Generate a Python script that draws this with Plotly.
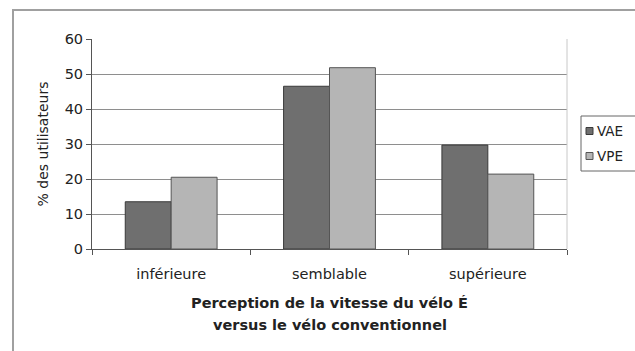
import plotly.graph_objects as go

# Perception of e-bike speed compared with a conventional bike (% of users)
categories = ["inférieure", "semblable", "supérieure"]
vae = [13.5, 46.5, 29.7]
vpe = [20.5, 51.8, 21.4]
series_names = ["VAE", "VPE"]
series_colors = ["#6f6f6f", "#b5b5b5"]
series_edges = ["#3a3a3a", "#555555"]
y_ticks = [0, 10, 20, 30, 40, 50, 60]
x_title_lines = ["Perception de la vitesse du vélo É", "versus le vélo conventionnel"]

W, H = 635, 351
L, R, T, B = 92, 68, 39, 102
pw, ph = W - L - R, H - T - B

font_family = "DejaVu Sans"

fig = go.Figure()
for name, vals, col, edge in zip(series_names, [vae, vpe], series_colors, series_edges):
    fig.add_trace(go.Bar(
        x=categories, y=vals, name=name,
        marker=dict(color=col, line=dict(color=edge, width=1)),
    ))


def px_to_paper_x(px):
    return (px - L) / pw


def px_to_paper_y(py):
    return (H - B - py) / ph


shapes = [
    # outer chart frame
    dict(type="rect", xref="paper", yref="paper",
         x0=px_to_paper_x(13), x1=px_to_paper_x(W + 10),
         y0=px_to_paper_y(H + 10), y1=px_to_paper_y(10),
         line=dict(color="#a0a0a0", width=2), fillcolor="rgba(0,0,0,0)",
         layer="below"),
    # light right border of the plot area
    dict(type="line", xref="paper", yref="paper", x0=1, x1=1, y0=0, y1=1,
         line=dict(color="#c8c8c8", width=1)),
    # legend box
    dict(type="rect", xref="paper", yref="paper",
         x0=px_to_paper_x(581), x1=px_to_paper_x(W + 10),
         y0=px_to_paper_y(171), y1=px_to_paper_y(116),
         line=dict(color="#666666", width=1), fillcolor="white"),
]

annotations = []
legend_rows = [131, 156]
for name, col, edge, yrow in zip(series_names, series_colors, series_edges, legend_rows):
    shapes.append(dict(
        type="rect", xref="paper", yref="paper",
        x0=px_to_paper_x(586), x1=px_to_paper_x(593),
        y0=px_to_paper_y(yrow + 3.5), y1=px_to_paper_y(yrow - 3.5),
        line=dict(color=edge, width=1), fillcolor=col,
    ))
    annotations.append(dict(
        text=name, xref="paper", yref="paper",
        x=px_to_paper_x(595), y=px_to_paper_y(yrow),
        xanchor="left", yanchor="middle", showarrow=False,
        font=dict(size=13.5, family=font_family, color="#222222"),
    ))

# two-line bold axis caption under the category labels
for line, ypx in zip(x_title_lines, [303, 325]):
    annotations.append(dict(
        text=f"<b>{line}</b>", xref="paper", yref="paper",
        x=0.5, y=px_to_paper_y(ypx), xanchor="center", yanchor="middle",
        showarrow=False, font=dict(size=14.5, family=font_family, color="#222222"),
    ))

fig.update_layout(
    width=W, height=H,
    margin=dict(l=L, r=R, t=T, b=B, autoexpand=False),
    paper_bgcolor="white", plot_bgcolor="white",
    font=dict(family=font_family, color="#222222", size=14.5),
    barmode="group", bargap=0.42, bargroupgap=0,
    shapes=shapes, annotations=annotations,
    showlegend=False,
    xaxis=dict(
        type="category", showgrid=False,
        showline=True, linecolor="#555555", linewidth=1,
        ticks="outside", tickson="boundaries", ticklen=5, tickcolor="#555555",
        ticklabelstandoff=12,
        tickfont=dict(size=14.5),
    ),
    yaxis=dict(
        range=[0, 60], tickvals=y_ticks,
        showgrid=True, gridcolor="#8e8e8e", gridwidth=1,
        showline=True, linecolor="#555555", linewidth=1,
        ticks="outside", ticklen=5, tickcolor="#555555",
        tickfont=dict(size=14.5),
        zeroline=False,
        title=dict(text="% des utilisateurs", font=dict(size=14), standoff=12),
    ),
)

fig.write_html("out.html")
